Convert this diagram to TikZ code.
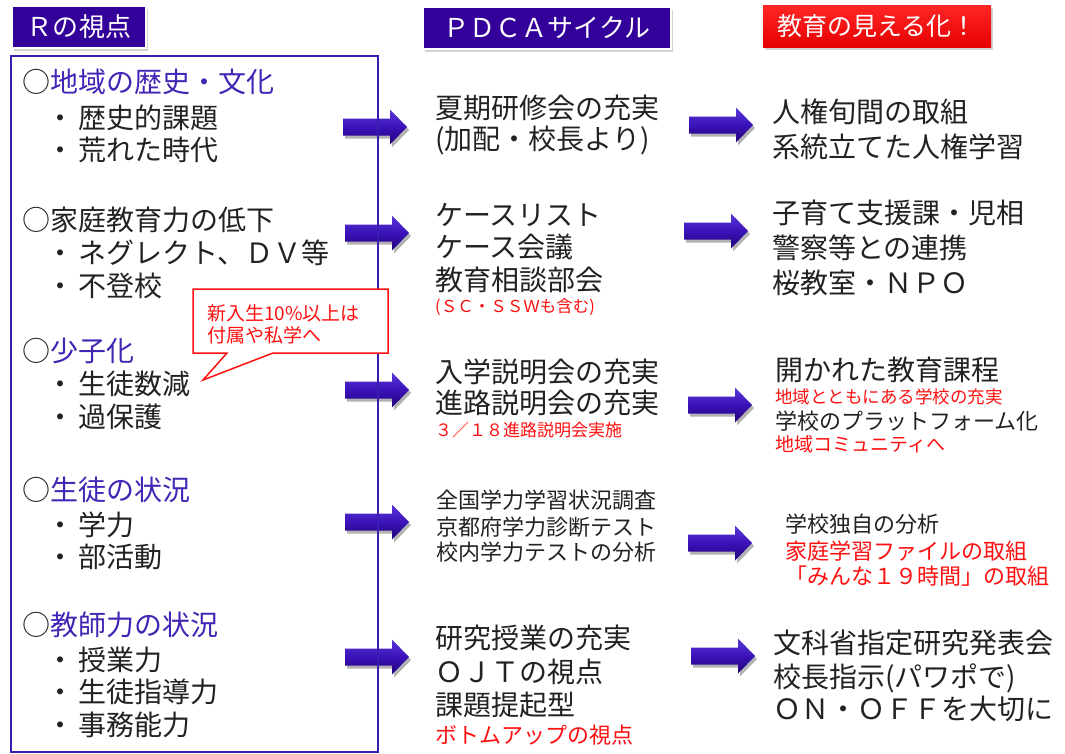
\documentclass[tikz,border=0pt]{standalone}
\usepackage{fontspec}
\setmainfont{Noto Sans CJK JP}
\usetikzlibrary{shadows}
\definecolor{hdrblue}{HTML}{330099}
\definecolor{boxpurple}{HTML}{3A1CB0}
\definecolor{headpurple}{HTML}{4325B5}
\definecolor{txt}{HTML}{222222}
\definecolor{redtxt}{HTML}{FF1010}
\definecolor{arrtop}{HTML}{5A38D8}
\definecolor{arrmid}{HTML}{3A12B8}
\definecolor{arrbot}{HTML}{22007A}
\newcommand\fz[1]{\fontsize{#1}{#1}\selectfont}
\tikzset{
 tx/.style={anchor=west, inner sep=0pt, text=txt, font=\fz{28}},
 txm/.style={tx, font=\fz{22}},
 rtx/.style={tx, text=redtxt},
 hdr/.style={draw=white, line width=1.5pt, minimum height=42pt, inner sep=0pt, text=white, font=\fz{26},
   drop shadow={opacity=0.35, shadow xshift=2pt, shadow yshift=-3pt}},
 blockarrow/.pic={
   \fill[black, opacity=0.3] (2,-5.5) -- (49,-5.5) -- (49,-14.5) -- (66,3) -- (49,20.5) -- (49,11.5) -- (2,11.5) -- cycle;
   \shade[top color=arrtop, bottom color=arrbot, middle color=arrmid] (0,-8.5) -- (47,-8.5) -- (47,-17.5) -- (64,0) -- (47,17.5) -- (47,8.5) -- (0,8.5) -- cycle;
 }
}
\begin{document}
\begin{tikzpicture}[x=1pt, y=-1pt]
\fill[white] (0,0) rectangle (1065,753);
\useasboundingbox (0,0) rectangle (1065,753);

% headers
\node[hdr, fill=hdrblue, minimum width=134pt] (hR) at (79,27) {Ｒの視点};
\node[hdr, fill=hdrblue, minimum width=248pt] (hP) at (547,28) {ＰＤＣＡサイクル};
\node[hdr, draw=none, top color=red!85!white, bottom color=red!90!black, minimum width=228pt, font=\fz{25}] (hE) at (877,26) {教育の見える化！};

% arrows (left -> middle)
\pic at (343,127) {blockarrow};
\pic at (345,233) {blockarrow};
\pic at (345,390) {blockarrow};
\pic at (345,522) {blockarrow};
\pic at (345,657) {blockarrow};
% arrows (middle -> right)
\pic at (689,125) {blockarrow};
\pic at (684,231) {blockarrow};
\pic at (688,405) {blockarrow};
\pic at (688,543) {blockarrow};
\pic at (691,656) {blockarrow};

% left box
\node[draw=boxpurple, line width=2pt, minimum width=367pt, minimum height=696pt, anchor=north west, inner sep=0pt] (leftbox) at (10,55) {};

% left column text
\node[tx] (a1) at (22,82) {○\textcolor{headpurple}{地域の歴史・文化}};
\node[tx] (a2) at (46,118) {・\hspace{4pt}歴史的課題};
\node[tx] (a3) at (46,150) {・\hspace{4pt}荒れた時代};
\node[tx] (b1) at (22,220) {○家庭教育力の低下};
\node[tx] (b2) at (46,253) {・\hspace{4pt}ネグレクト、ＤＶ等};
\node[tx] (b3) at (46,286) {・\hspace{4pt}不登校};
\node[tx] (c1) at (22,351) {○\textcolor{headpurple}{少子化}};
\node[tx] (c2) at (46,384) {・\hspace{4pt}生徒数減};
\node[tx] (c3) at (46,417) {・\hspace{4pt}過保護};
\node[tx] (d1) at (22,490) {○\textcolor{headpurple}{生徒の状況}};
\node[tx] (d2) at (46,525) {・\hspace{4pt}学力};
\node[tx] (d3) at (46,557) {・\hspace{4pt}部活動};
\node[tx] (e1) at (22,625) {○\textcolor{headpurple}{教師力の状況}};
\node[tx] (e2) at (46,660) {・\hspace{4pt}授業力};
\node[tx] (e3) at (46,692) {・\hspace{4pt}生徒指導力};
\node[tx] (e4) at (46,725) {・\hspace{4pt}事務能力};

% callout
\draw[redtxt, line width=1.5pt, fill=white] (193,289) -- (388,289) -- (388,353) -- (273,353) -- (203,380) -- (227,353) -- (193,353) -- cycle;
\node[rtx, font=\fz{19}] (co1) at (207,313) {新入生10\%以上は};
\node[rtx, font=\fz{19}] (co2) at (207,335) {付属や私学へ};

% middle column
\node[tx] (m11) at (435,108) {夏期研修会の充実};
\node[tx] (m12) at (435,140) {(加配・校長より)};
\node[tx] (m21) at (435,215) {ケースリスト};
\node[tx] (m22) at (435,247) {ケース会議};
\node[tx] (m23) at (435,280) {教育相談部会};
\node[rtx, font=\fz{16.5}] (m24) at (435,307) {(ＳＣ・ＳＳＷも含む)};
\node[tx] (m31) at (435,372) {入学説明会の充実};
\node[tx] (m32) at (435,403) {進路説明会の充実};
\node[rtx, font=\fz{17}] (m33) at (435,430) {３／１８進路説明会実施};
\node[txm] (m41) at (436,500) {全国学力学習状況調査};
\node[txm] (m42) at (436,527) {京都府学力診断テスト};
\node[txm] (m43) at (436,552) {校内学力テストの分析};
\node[tx] (m51) at (435,638) {研究授業の充実};
\node[tx] (m52) at (435,672) {ＯＪＴの視点};
\node[tx] (m53) at (435,705) {課題提起型};
\node[rtx, font=\fz{22}] (m54) at (435,735) {ボトムアップの視点};

% right column
\node[tx] (r11) at (772,112) {人権旬間の取組};
\node[tx] (r12) at (772,147) {系統立てた人権学習};
\node[tx] (r21) at (772,213) {子育て支援課・児相};
\node[tx] (r22) at (772,248) {警察等との連携};
\node[tx] (r23) at (772,283) {桜教室・ＮＰＯ};
\node[tx] (r31) at (775,370) {開かれた教育課程};
\node[rtx, font=\fz{17.5}] (r32) at (775,397) {地域とともにある学校の充実};
\node[txm] (r33) at (775,421) {学校のプラットフォーム化};
\node[rtx, font=\fz{19}] (r34) at (775,444) {地域コミュニティへ};
\node[txm] (r41) at (785,524) {学校独自の分析};
\node[rtx, font=\fz{22}] (r42) at (785,551) {家庭学習ファイルの取組};
\node[rtx, font=\fz{22}] (r43) at (785,576) {「みんな１９時間」の取組};
\node[tx] (r51) at (773,643) {文科省指定研究発表会};
\node[tx] (r52) at (773,678) {校長指示(パワポで)};
\node[tx] (r53) at (773,709) {ＯＮ・ＯＦＦを大切に};
\end{tikzpicture}
\end{document}
